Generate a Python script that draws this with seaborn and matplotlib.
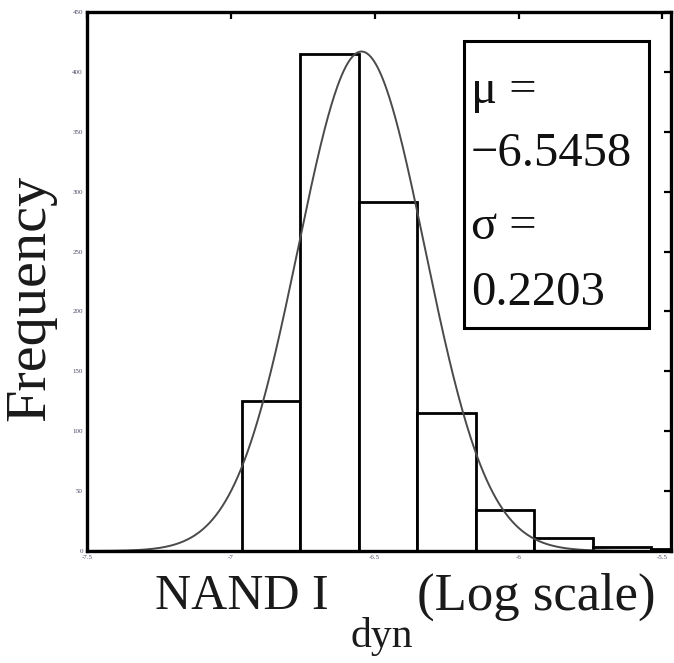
import numpy as np
import pandas as pd
import matplotlib
matplotlib.use("Agg")
import matplotlib.pyplot as plt
from matplotlib.patches import Rectangle
import seaborn as sns

# Histogram of log10 dynamic current for NAND cells
bin_start = -6.962
bin_width = 0.2033
counts = [125, 415, 291, 115, 34, 11, 3, 2]

# Normal fit parameters and fitted peak height (counts)
mu = -6.5458
sigma = 0.2203
fit_peak = 417

x_ticks = [-7.5, -7.0, -6.5, -6.0, -5.5]
x_tick_labels = ["-7.5", "-7", "-6.5", "-6", "-5.5"]
y_ticks = [0, 50, 100, 150, 200, 250, 300, 350, 400, 450]

edges = [bin_start + bin_width * i for i in range(len(counts) + 1)]
centers = [(edges[i] + edges[i + 1]) / 2 for i in range(len(counts))]
hist_df = pd.DataFrame({"logI": centers, "count": counts})

xs = np.linspace(-7.5, -5.3, 600)
fit_df = pd.DataFrame({
    "logI": xs,
    "freq": fit_peak * np.exp(-0.5 * ((xs - mu) / sigma) ** 2),
})

sns.set_theme(style="white")
plt.rcParams["font.family"] = ["Liberation Serif", "DejaVu Serif"]

fig = plt.figure(figsize=(6.74, 6.63), dpi=100)
ax = fig.add_axes([87 / 674, 1 - 551 / 663, 584 / 674, 539 / 663])

sns.histplot(data=hist_df, x="logI", weights="count", bins=edges,
             color="white", edgecolor="black", linewidth=2.0, alpha=1.0,
             ax=ax)
sns.lineplot(data=fit_df, x="logI", y="freq", color="#4a4a4a",
             linewidth=1.4, ax=ax)

ax.set_xlim(-7.5, -5.47)
ax.set_ylim(0, 450)
ax.set_xticks(x_ticks)
ax.set_xticklabels(x_tick_labels)
ax.set_yticks(y_ticks)
ax.tick_params(direction="in", length=5, width=1.6, top=True, right=True,
               labelsize=5, colors="black", labelcolor="#4a4a66", pad=3)
for sp in ax.spines.values():
    sp.set_linewidth(2.4)
    sp.set_color("black")
ax.set_xlabel("")
ax.set_ylabel("")

# Fit statistics box
ax.add_patch(Rectangle((0.6455, 0.414), 0.3165, 0.532, transform=ax.transAxes,
                       fill=True, facecolor="white", edgecolor="black",
                       linewidth=2.2, zorder=5))
stat_lines = [("\u03bc =", 0.853), ("\u22126.5458", 0.737),
              ("\u03c3 =", 0.602), ("0.2203", 0.478)]
for txt, yy in stat_lines:
    ax.text(0.6575, yy, txt, transform=ax.transAxes, ha="left", va="center",
            fontsize=35, color="#111111", zorder=6)

# Axis titles
fig.text(30 / 674, 1 - 298 / 663, "Frequency", rotation=90, ha="center",
         va="center", fontsize=42, color="#1a1a1a")
fig.text(155 / 674, 1 - 597 / 663, "NAND I", ha="left", va="center",
         fontsize=36, color="#1a1a1a")
fig.text(382 / 674, 1 - 637 / 663, "dyn", ha="center", va="center",
         fontsize=30, color="#1a1a1a")
fig.text(656 / 674, 1 - 597 / 663, "(Log scale)", ha="right", va="center",
         fontsize=38, color="#1a1a1a")

fig.savefig("out.png", dpi=100, facecolor="white")
